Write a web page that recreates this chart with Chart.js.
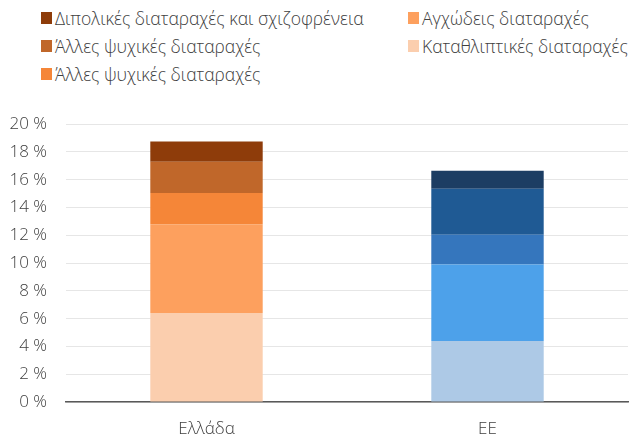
<!DOCTYPE html>
<html><head><meta charset="utf-8">
<script src="https://cdn.jsdelivr.net/npm/chart.js@4"></script>
<style>
html,body{margin:0;padding:0;background:#fff;}
body{width:643px;height:441px;position:relative;overflow:hidden;font-family:'Open Sans',sans-serif;font-weight:300;}
#wrap{position:absolute;left:0;top:95px;width:643px;height:346px;}
.lg{position:absolute;font-size:17.5px;color:#404040;white-space:nowrap;line-height:20px;}
.lg span.sw{position:absolute;left:-14px;top:4px;width:11px;height:12px;}
</style></head><body>
<div id="legend"></div>
<div id="wrap"><canvas id="c"></canvas></div>
<script>
const categories = ['Ελλάδα', 'ΕΕ'];
const seriesNames = ['Καταθλιπτικές διαταραχές', 'Αγχώδεις διαταραχές', 'Άλλες ψυχικές διαταραχές', 'Άλλες ψυχικές διαταραχές', 'Διπολικές διαταραχές και σχιζοφρένεια'];
const depressive = [6.4, 4.4];
const anxiety = [6.4, 5.5];
const otherA = [2.25, 2.15];
const otherB = [2.25, 3.3];
const bipolar = [1.45, 1.3];
const yTicks = [0, 2, 4, 6, 8, 10, 12, 14, 16, 18, 20];
const greeceColors = ['#FBCEAE', '#FDA05E', '#F58638', '#C0672A', '#8E3C0A'];
const euColors = ['#ADC9E6', '#4DA1EA', '#3576BD', '#1F5A94', '#1C3D63'];

const values = [depressive, anxiety, otherA, otherB, bipolar];
const datasets = values.map((v, i) => ({
  label: seriesNames[i],
  data: v,
  backgroundColor: [greeceColors[i], euColors[i]],
  borderWidth: 0,
  barPercentage: 0.8,
  categoryPercentage: 0.5
}));

// legend layout (2 columns as in the reference)
const legendPos = [
  {i:4, x:55, y:8}, {i:3, x:55, y:36}, {i:2, x:55, y:64},
  {i:1, x:422, y:8}, {i:0, x:422, y:36}
];
const lg = document.getElementById('legend');
legendPos.forEach(p => {
  const d = document.createElement('div');
  d.className = 'lg';
  d.style.left = p.x + 'px';
  d.style.top = p.y + 'px';
  const s = document.createElement('span');
  s.className = 'sw';
  s.style.background = greeceColors[p.i];
  d.appendChild(s);
  d.appendChild(document.createTextNode(seriesNames[p.i]));
  lg.appendChild(d);
});

new Chart(document.getElementById('c'), {
  type: 'bar',
  data: { labels: categories, datasets },
  options: {
    responsive: true,
    maintainAspectRatio: false,
    animation: false,
    devicePixelRatio: 1,
    layout: { padding: { left: 0, right: 15, top: 21, bottom: 0 } },
    plugins: { legend: { display: false }, tooltip: { enabled: false } },
    scales: {
      x: {
        stacked: true,
        grid: { display: false, drawTicks: false },
        border: { color: '#595959', width: 1.5 },
        ticks: { color: '#404040', font: { family: 'Open Sans', size: 17, weight: 300 }, padding: 17 },
        afterFit: ax => { ax.height = 39; }
      },
      y: {
        stacked: true,
        min: 0, max: 20,
        afterBuildTicks: ax => { ax.ticks = yTicks.map(v => ({ value: v })); },
        grid: { color: '#e6e6e6', lineWidth: 1, drawTicks: false },
        border: { display: false },
        ticks: { color: '#404040', font: { family: 'Open Sans', size: 17, weight: 300 }, padding: 19,
          callback: v => v + ' %' },
        afterFit: ax => { ax.width = 66; }
      }
    }
  }
});
</script>
</body></html>
